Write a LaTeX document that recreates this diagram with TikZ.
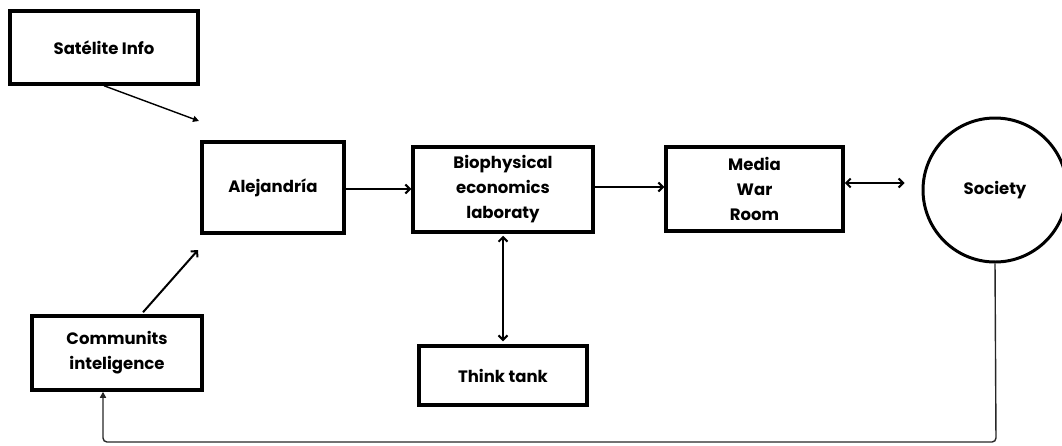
\documentclass[tikz,border=0pt]{standalone}
\usepackage{fontspec}
\setmainfont{Poppins}
\usetikzlibrary{arrows.meta,calc}
\begin{document}
\begin{tikzpicture}[x=1pt,y=-1pt,
  box/.style={draw=black,line width=3.5pt,rectangle,inner sep=0pt,align=center,
    font=\fontsize{16.5}{25}\selectfont\bfseries},
  conn/.style={line width=2pt,-{Straight Barb[length=4.5pt,width=9pt,line width=2pt]}},
  biconn/.style={line width=2pt,{Straight Barb[length=4.5pt,width=9pt,line width=2pt]}-{Straight Barb[length=4.5pt,width=9pt,line width=2pt]}},
  thin/.style={line width=1.4pt,-{Triangle[length=6pt,width=6pt]}},
]
\useasboundingbox (0,0) rectangle (1062,445);
\node[box,minimum width=188pt,minimum height=73pt] (sat) at (104,47.5) {Satélite Info};
\node[box,minimum width=142pt,minimum height=91pt] (alej) at (273,187.5) {Alejandría};
\node[box,minimum width=180pt,minimum height=85pt] (bio) at (503,189.5) {Biophysical\\economics\\laboraty};
\node[box,minimum width=177pt,minimum height=84pt] (media) at (754.5,189) {Media\\War\\Room};
\node[box,circle,line width=3pt,minimum size=144pt] (soc) at (995,190) {Society};
\node[box,minimum width=168pt,minimum height=59pt] (think) at (503,375.5) {Think tank};
\node[box,minimum width=170pt,minimum height=74pt] (comm) at (117,353) {Communits\\inteligence};
\coordinate (satend) at (199,121);
\coordinate (commend) at (198,250);
\coordinate (loopR) at (996,442);
\coordinate (loopL) at (103,442);
\draw[thin] (sat.south) -- (satend);
\draw[conn] ([xshift=26pt,yshift=2pt]comm.north) -- (commend);
\draw[conn] ([yshift=-1.5pt]alej.east) -- ([yshift=-1.5pt]alej.east -| bio.west);
\draw[conn] ([yshift=2.5pt]bio.east) -- ([yshift=2.5pt]bio.east -| media.west);
\draw[biconn,shorten >=17pt] ([yshift=6pt]media.east) -- ([yshift=6pt]media.east -| soc.west);
\draw[biconn,shorten <=2pt,shorten >=3pt] (bio.south) -- (think.north);
\draw[thin,draw=black!85,rounded corners=4pt] (soc.south) -- (loopR) -- (loopL) -- ([xshift=-14pt]comm.south);
\end{tikzpicture}
\end{document}
